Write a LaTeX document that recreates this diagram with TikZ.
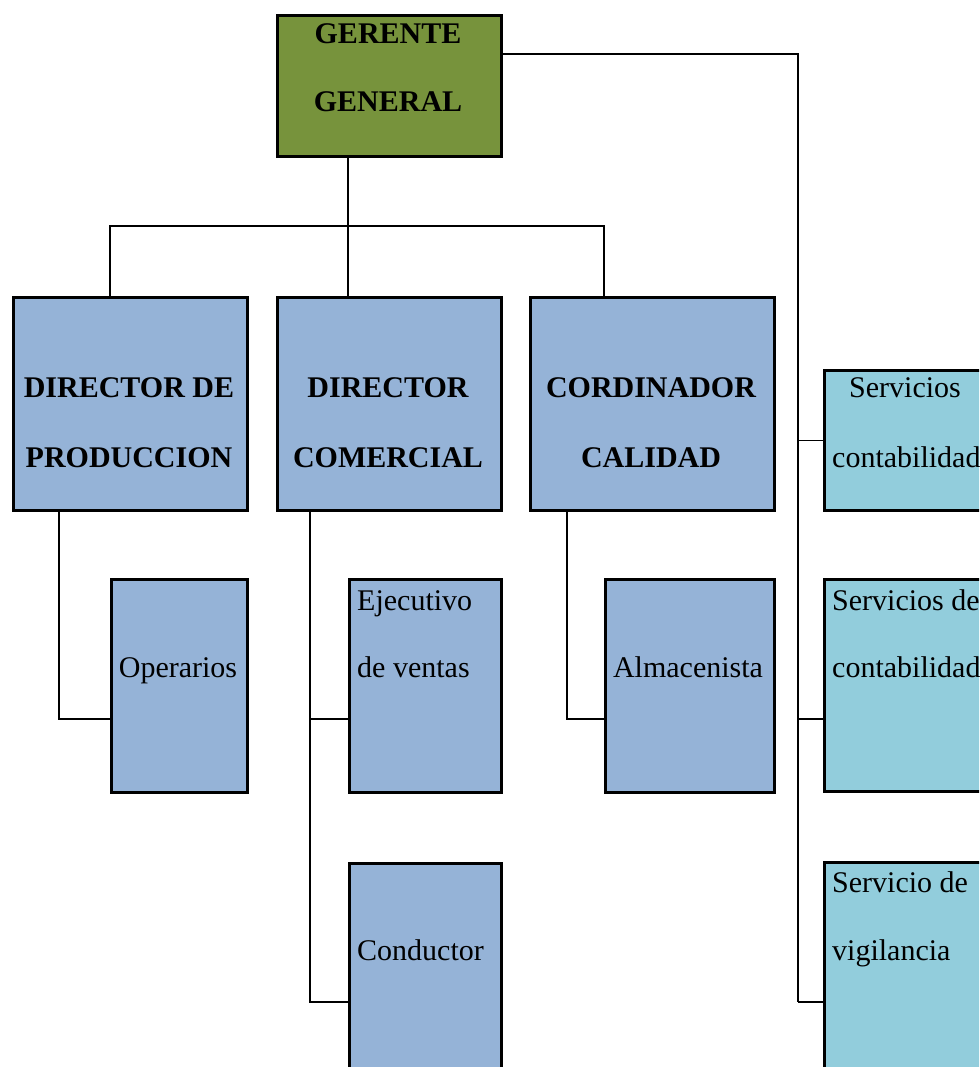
\documentclass[tikz,border=0pt]{standalone}
\usepackage{fontspec}
\setmainfont{Liberation Serif}
\definecolor{gverde}{HTML}{77933C}
\definecolor{azul}{HTML}{95B3D7}
\definecolor{celeste}{HTML}{92CDDC}
\begin{document}
\begin{tikzpicture}[x=1pt,y=-1pt,
  bx/.style={draw=black,line width=2.8pt,anchor=north west,inner sep=0pt,rectangle},
  tx/.style={anchor=base,inner sep=0pt,font=\fontsize{30}{36}\selectfont},
  tb/.style={tx,font=\fontsize{30}{36}\selectfont\bfseries},
  ln/.style={draw=black,line width=1.4pt}]
\useasboundingbox (0,0) rectangle (979,1067);
\clip (0,0) rectangle (979,1067);
% boxes
\node[bx,fill=gverde,minimum width=224,minimum height=141] (gg) at (276,14) {};
\node[bx,fill=azul,minimum width=234,minimum height=213] (dp) at (12,296) {};
\node[bx,fill=azul,minimum width=224,minimum height=213] (dc) at (276,296) {};
\node[bx,fill=azul,minimum width=244,minimum height=213] (cc) at (529,296) {};
\node[bx,fill=celeste,minimum width=200,minimum height=140] (s1) at (823,369) {};
\node[bx,fill=celeste,minimum width=200,minimum height=212] (s2) at (823,578) {};
\node[bx,fill=celeste,minimum width=200,minimum height=260] (s3) at (823,861) {};
\node[bx,fill=azul,minimum width=136,minimum height=213] (op) at (110,578) {};
\node[bx,fill=azul,minimum width=152,minimum height=213] (ev) at (348,578) {};
\node[bx,fill=azul,minimum width=169,minimum height=213] (al) at (604,578) {};
\node[bx,fill=azul,minimum width=152,minimum height=260] (co) at (348,862) {};
% texts
\node[tb] (t1) at (388,44) {GERENTE};
\node[tb] (t2) at (388,112) {GENERAL};
\node[tb] (t3) at (129,397) {DIRECTOR DE};
\node[tb] (t4) at (129,467) {PRODUCCION};
\node[tb] (t5) at (388,397) {DIRECTOR};
\node[tb] (t6) at (388,467) {COMERCIAL};
\node[tb] (t7) at (651,397) {CORDINADOR};
\node[tb] (t8) at (651,467) {CALIDAD};
\node[tx] (t9) at (905,397) {Servicios};
\node[tx,anchor=base west] (t10) at (832,467) {contabilidad};
\node[tx,anchor=base west] (t11) at (832,610) {Servicios de};
\node[tx,anchor=base west] (t12) at (832,677) {contabilidad};
\node[tx,anchor=base west] (t13) at (832,892) {Servicio de};
\node[tx,anchor=base west] (t14) at (832,960) {vigilancia};
\node[tx] (t15) at (178,677) {Operarios};
\node[tx,anchor=base west] (t16) at (357,610) {Ejecutivo};
\node[tx,anchor=base west] (t17) at (357,677) {de ventas};
\node[tx] (t18) at (688,677) {Almacenista};
\node[tx,anchor=base west] (t19) at (357,960) {Conductor};
% coordinates
\coordinate (xa) at (348,226);
\coordinate (xl) at (110,226);
\coordinate (xr) at (604,226);
\coordinate (rv) at (798,54);
\coordinate (xp) at (59,719);
\coordinate (xc) at (310,1002);
\coordinate (xq) at (567,719);
% connectors
\draw[ln] (xa |- gg.south) -- (xa);
\draw[ln] (xl |- dp.north) -- (xl) -- (xr) -- (xr |- cc.north);
\draw[ln] (xa) -- (xa |- dc.north);
\draw[ln] (gg.east |- rv) -- (rv) -- (rv |- xc);
\draw[ln] (rv |- s1.west) -- (s1.west);
\draw[ln] (rv |- xp) -- (s2.west |- xp);
\draw[ln] (rv |- xc) -- (s3.west |- xc);
\draw[ln] (xp |- dp.south) -- (xp) -- (op.west |- xp);
\draw[ln] (xc |- dc.south) -- (xc) -- (co.west |- xc);
\draw[ln] (xc |- xp) -- (ev.west |- xp);
\draw[ln] (xq |- cc.south) -- (xq) -- (al.west |- xq);
\end{tikzpicture}
\end{document}
